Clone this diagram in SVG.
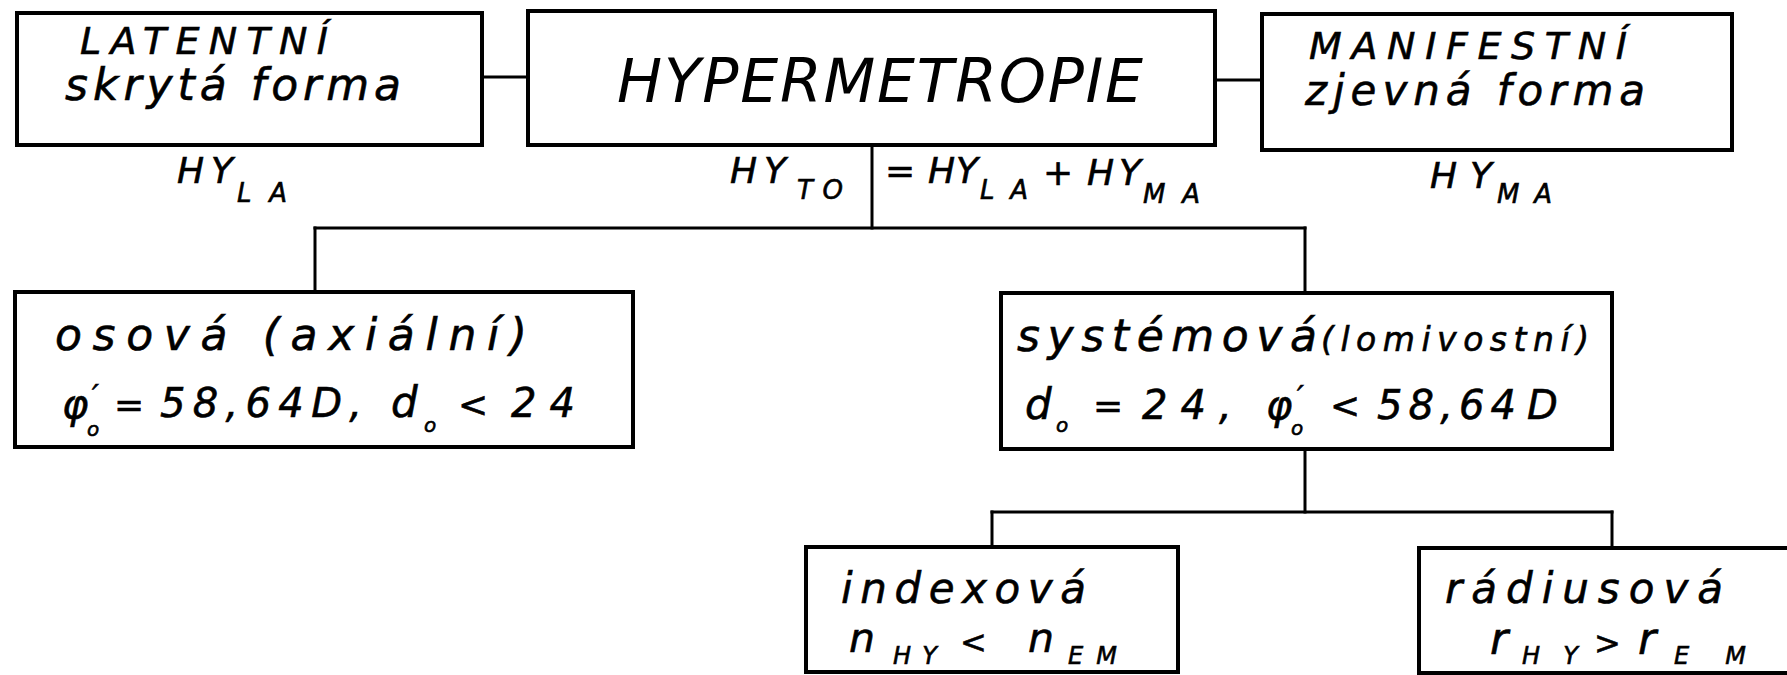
<svg xmlns="http://www.w3.org/2000/svg" width="1787" height="675" viewBox="0 0 1787 675">
<style>
.box { fill: #fff; stroke: #000; stroke-width: 4; }
.ln { fill: none; stroke: #000; stroke-width: 3; stroke-linecap: square; }
.t { font-family: "DejaVu Sans", "Liberation Sans", sans-serif; font-style: italic; fill: #000; stroke: #000; stroke-width: 0.6; }
.thin { stroke-width: 0; }
.s { font-size: 26px; }
.m { font-size: 36px; }
</style>
<rect width="1787" height="675" fill="#fff"/>
<g id="connectors">
  <line class="ln" x1="482" y1="77" x2="528" y2="77"/>
  <line class="ln" x1="1215" y1="80" x2="1262" y2="80"/>
  <line class="ln" x1="872" y1="145" x2="872" y2="228"/>
  <line class="ln" x1="315" y1="228" x2="1305" y2="228"/>
  <line class="ln" x1="315" y1="228" x2="315" y2="292"/>
  <line class="ln" x1="1305" y1="228" x2="1305" y2="293"/>
  <line class="ln" x1="1305" y1="449" x2="1305" y2="512"/>
  <line class="ln" x1="992" y1="512" x2="1612" y2="512"/>
  <line class="ln" x1="992" y1="512" x2="992" y2="547"/>
  <line class="ln" x1="1612" y1="512" x2="1612" y2="548"/>
</g>
<g id="latentni">
  <rect class="box" x="17" y="13" width="465" height="132"/>
  <text class="t" x="80" y="54" font-size="38" textLength="248" lengthAdjust="spacing">LATENTNÍ</text>
  <text class="t" x="65" y="100" font-size="44" textLength="336" lengthAdjust="spacing">skrytá forma</text>
</g>
<g id="hypermetropie">
  <rect class="box" x="528" y="11" width="687" height="134"/>
  <text class="t thin" x="617" y="102" font-size="60" textLength="526" lengthAdjust="spacing">HYPERMETROPIE</text>
</g>
<g id="manifestni">
  <rect class="box" x="1262" y="14" width="470" height="136"/>
  <text class="t" x="1309" y="59" font-size="38" textLength="318" lengthAdjust="spacing">MANIFESTNÍ</text>
  <text class="t" x="1305" y="105" font-size="42" textLength="340" lengthAdjust="spacing">zjevná forma</text>
</g>
<g id="labels">
  <text class="t m" x="177" y="183" textLength="56" lengthAdjust="spacing">HY</text>
  <text class="t s" x="237" y="202" textLength="50" lengthAdjust="spacing">LA</text>
  <text class="t m" x="730" y="183" textLength="56" lengthAdjust="spacing">HY</text>
  <text class="t s" x="797" y="199" textLength="46" lengthAdjust="spacing">TO</text>
  <text class="t m" x="885" y="183">=</text>
  <text class="t m" x="928" y="183" textLength="50" lengthAdjust="spacing">HY</text>
  <text class="t s" x="980" y="199" textLength="48" lengthAdjust="spacing">LA</text>
  <text class="t m" x="1043" y="185">+</text>
  <text class="t m" x="1087" y="185" textLength="54" lengthAdjust="spacing">HY</text>
  <text class="t s" x="1143" y="203" textLength="57" lengthAdjust="spacing">MA</text>
  <text class="t m" x="1430" y="188" textLength="62" lengthAdjust="spacing">HY</text>
  <text class="t s" x="1497" y="203" textLength="55" lengthAdjust="spacing">MA</text>
</g>
<g id="osova">
  <rect class="box" x="15" y="292" width="618" height="155"/>
  <text class="t" x="55" y="350" font-size="44" textLength="472" lengthAdjust="spacing">osová (axiální)</text>
  <text class="t" x="62" y="418" font-size="40">φ</text>
  <text class="t" x="87" y="436" font-size="20">o</text>
  <text class="t" x="92" y="406" font-size="30">′</text>
  <text class="t" x="114" y="417" font-size="36">=</text>
  <text class="t" x="160" y="417" font-size="40" textLength="202" lengthAdjust="spacing">58,64D,</text>
  <text class="t" x="391" y="417" font-size="42">d</text>
  <text class="t" x="424" y="432" font-size="20">o</text>
  <text class="t" x="458" y="417" font-size="36">&lt;</text>
  <text class="t" x="511" y="417" font-size="40" textLength="64" lengthAdjust="spacing">24</text>
</g>
<g id="systemova">
  <rect class="box" x="1001" y="293" width="611" height="156"/>
  <text class="t" x="1017" y="351" font-size="44" textLength="300" lengthAdjust="spacing">systémová</text>
  <text class="t" x="1321" y="351" font-size="33" textLength="268" lengthAdjust="spacing">(lomivostní)</text>
  <text class="t" x="1025" y="419" font-size="42">d</text>
  <text class="t" x="1056" y="432" font-size="20">o</text>
  <text class="t" x="1093" y="418" font-size="36">=</text>
  <text class="t" x="1142" y="419" font-size="40" textLength="64" lengthAdjust="spacing">24</text>
  <text class="t" x="1219" y="419" font-size="40">,</text>
  <text class="t" x="1266" y="419" font-size="40">φ</text>
  <text class="t" x="1291" y="435" font-size="20">o</text>
  <text class="t" x="1297" y="407" font-size="30">′</text>
  <text class="t" x="1330" y="418" font-size="36">&lt;</text>
  <text class="t" x="1377" y="419" font-size="40" textLength="139" lengthAdjust="spacing">58,64</text>
  <text class="t" x="1527" y="419" font-size="40">D</text>
</g>
<g id="indexova">
  <rect class="box" x="806" y="547" width="372" height="125"/>
  <text class="t" x="841" y="603" font-size="42" textLength="245" lengthAdjust="spacing">indexová</text>
  <text class="t" x="849" y="652" font-size="41">n</text>
  <text class="t" x="893" y="664" font-size="24" textLength="44" lengthAdjust="spacing">HY</text>
  <text class="t" x="960" y="653" font-size="32">&lt;</text>
  <text class="t" x="1028" y="652" font-size="41">n</text>
  <text class="t" x="1068" y="664" font-size="24" textLength="49" lengthAdjust="spacing">EM</text>
</g>
<g id="radiusova">
  <rect class="box" x="1419" y="548" width="390" height="125"/>
  <text class="t" x="1445" y="603" font-size="42" textLength="278" lengthAdjust="spacing">rádiusová</text>
  <text class="t" x="1490" y="654" font-size="44">r</text>
  <text class="t" x="1522" y="664" font-size="24" textLength="56" lengthAdjust="spacing">HY</text>
  <text class="t" x="1594" y="654" font-size="32">&gt;</text>
  <text class="t" x="1638" y="654" font-size="44">r</text>
  <text class="t" x="1674" y="664" font-size="24" textLength="72" lengthAdjust="spacing">EM</text>
</g>
</svg>
